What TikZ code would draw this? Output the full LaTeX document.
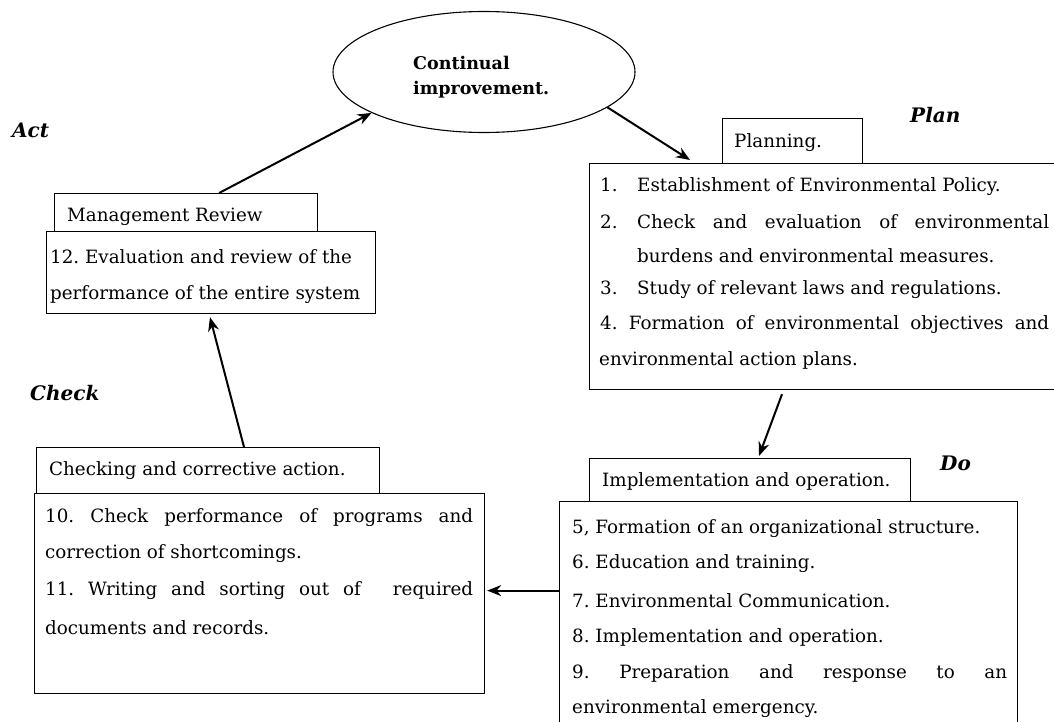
\documentclass[tikz,border=0pt]{standalone}
\usepackage{fontspec}
\setmainfont{DejaVu Serif}
\usetikzlibrary{shapes.geometric,arrows.meta,calc}
\frenchspacing
\begin{document}
\begin{tikzpicture}[x=1pt,y=-1pt,
  box/.style={draw,line width=1.2pt,inner sep=0,anchor=north west},
  txt/.style={inner sep=0,anchor=west,font=\fontsize{18.3}{20}\selectfont},
  phase/.style={inner sep=0,anchor=west,font=\fontsize{20}{22}\selectfont\bfseries\itshape},
  arr/.style={-{Stealth[length=14pt,width=11pt]},line width=2pt}]
\useasboundingbox (0,0) rectangle (1054,722);
\clip (0,0) rectangle (1054,722);

% ellipse
\node[draw,ellipse,line width=1.1pt,minimum width=302pt,minimum height=121pt,inner sep=0] (ell) at (484,72) {};
\node[txt,font=\fontsize{17.5}{20}\selectfont\bfseries] (c1) at (413,63) {Continual};
\node[txt,font=\fontsize{17.5}{20}\selectfont\bfseries] (c2) at (413,90) {improvement.};

% phase labels
\node[phase] (act) at (12,130) {Act};
\node[phase] (plan) at (910,115) {Plan};
\node[phase] (check) at (30,393) {Check};
\node[phase] (do) at (940,463) {Do};

% Act
\node[box,minimum width=263pt,minimum height=38pt] (mrtab) at (54,193) {};
\node[box,minimum width=329pt,minimum height=82pt] (mrbox) at (46,231) {};
\node[txt] (mrt) at (67,217) {Management Review};
\node[txt] (m1) at (50,257) {12. Evaluation and review of the};
\node[txt] (m2) at (50,295) {performance of the entire system};

% Plan
\node[box,minimum width=140pt,minimum height=45pt] (plantab) at (722,118) {};
\node[box,minimum width=520pt,minimum height=226pt] (planbox) at (589,163) {};
\node[txt] (pt) at (734,143) {Planning.};
\node[txt] (p1) at (600,187) {\makebox[37pt][l]{1.}Establishment of Environmental Policy.};
\node[txt] (p2) at (600,222) {\makebox[37pt][l]{2.}\makebox[412pt][s]{Check and evaluation of environmental}};
\node[txt] (p3) at (637,256) {burdens and environmental measures.};
\node[txt] (p4) at (600,290) {\makebox[37pt][l]{3.}Study of relevant laws and regulations.};
\node[txt] (p5) at (600,325) {\makebox[449pt][s]{4. Formation of environmental objectives and}};
\node[txt] (p6) at (599,360) {environmental action plans.};

% Do
\node[box,minimum width=321pt,minimum height=43pt] (impltab) at (589,458) {};
\node[box,minimum width=458pt,minimum height=280pt] (dobox) at (559,501) {};
\node[txt] (it) at (602,481) {Implementation and operation.};
\node[txt] (d1) at (572,529) {5, Formation of an organizational structure.};
\node[txt] (d2) at (572,564) {6. Education and training.};
\node[txt] (d3) at (572,601) {7. Environmental Communication.};
\node[txt] (d4) at (572,637) {8. Implementation and operation.};
\node[txt] (d5) at (572,673) {\makebox[435pt][s]{9. Preparation and response to an}};
\node[txt] (d6) at (572,709) {environmental emergency.};

% Check
\node[box,minimum width=343pt,minimum height=46pt] (checktab) at (36,447) {};
\node[box,minimum width=450pt,minimum height=200pt] (checkbox) at (34,493) {};
\node[txt] (ct) at (49,471) {Checking and corrective action.};
\node[txt] (k1) at (45,518) {\makebox[428pt][s]{10. Check performance of programs and}};
\node[txt] (k2) at (45,554) {correction of shortcomings.};
\node[txt] (k3) at (45,591) {\makebox[428pt][s]{11. Writing and sorting out of \quad required}};
\node[txt] (k4) at (45,628) {documents and records.};

% connectors
\draw[arr] ([xshift=33pt]mrtab.north) -- (ell.200);
\draw[arr] (ell.-16) -- ([xshift=101pt,yshift=3pt]planbox.north west);
\draw[arr] ([xshift=193pt,yshift=-4pt]planbox.south west) -- ([xshift=170pt,yshift=2pt]impltab.north west);
\draw[arr] ([yshift=3pt]checkbox.east -| dobox.west) -- ([xshift=2pt,yshift=3pt]checkbox.east);
\draw[arr] ([xshift=208pt]checktab.north west) -- ([xshift=164pt,yshift=-3pt]mrbox.south west);
\end{tikzpicture}
\end{document}
